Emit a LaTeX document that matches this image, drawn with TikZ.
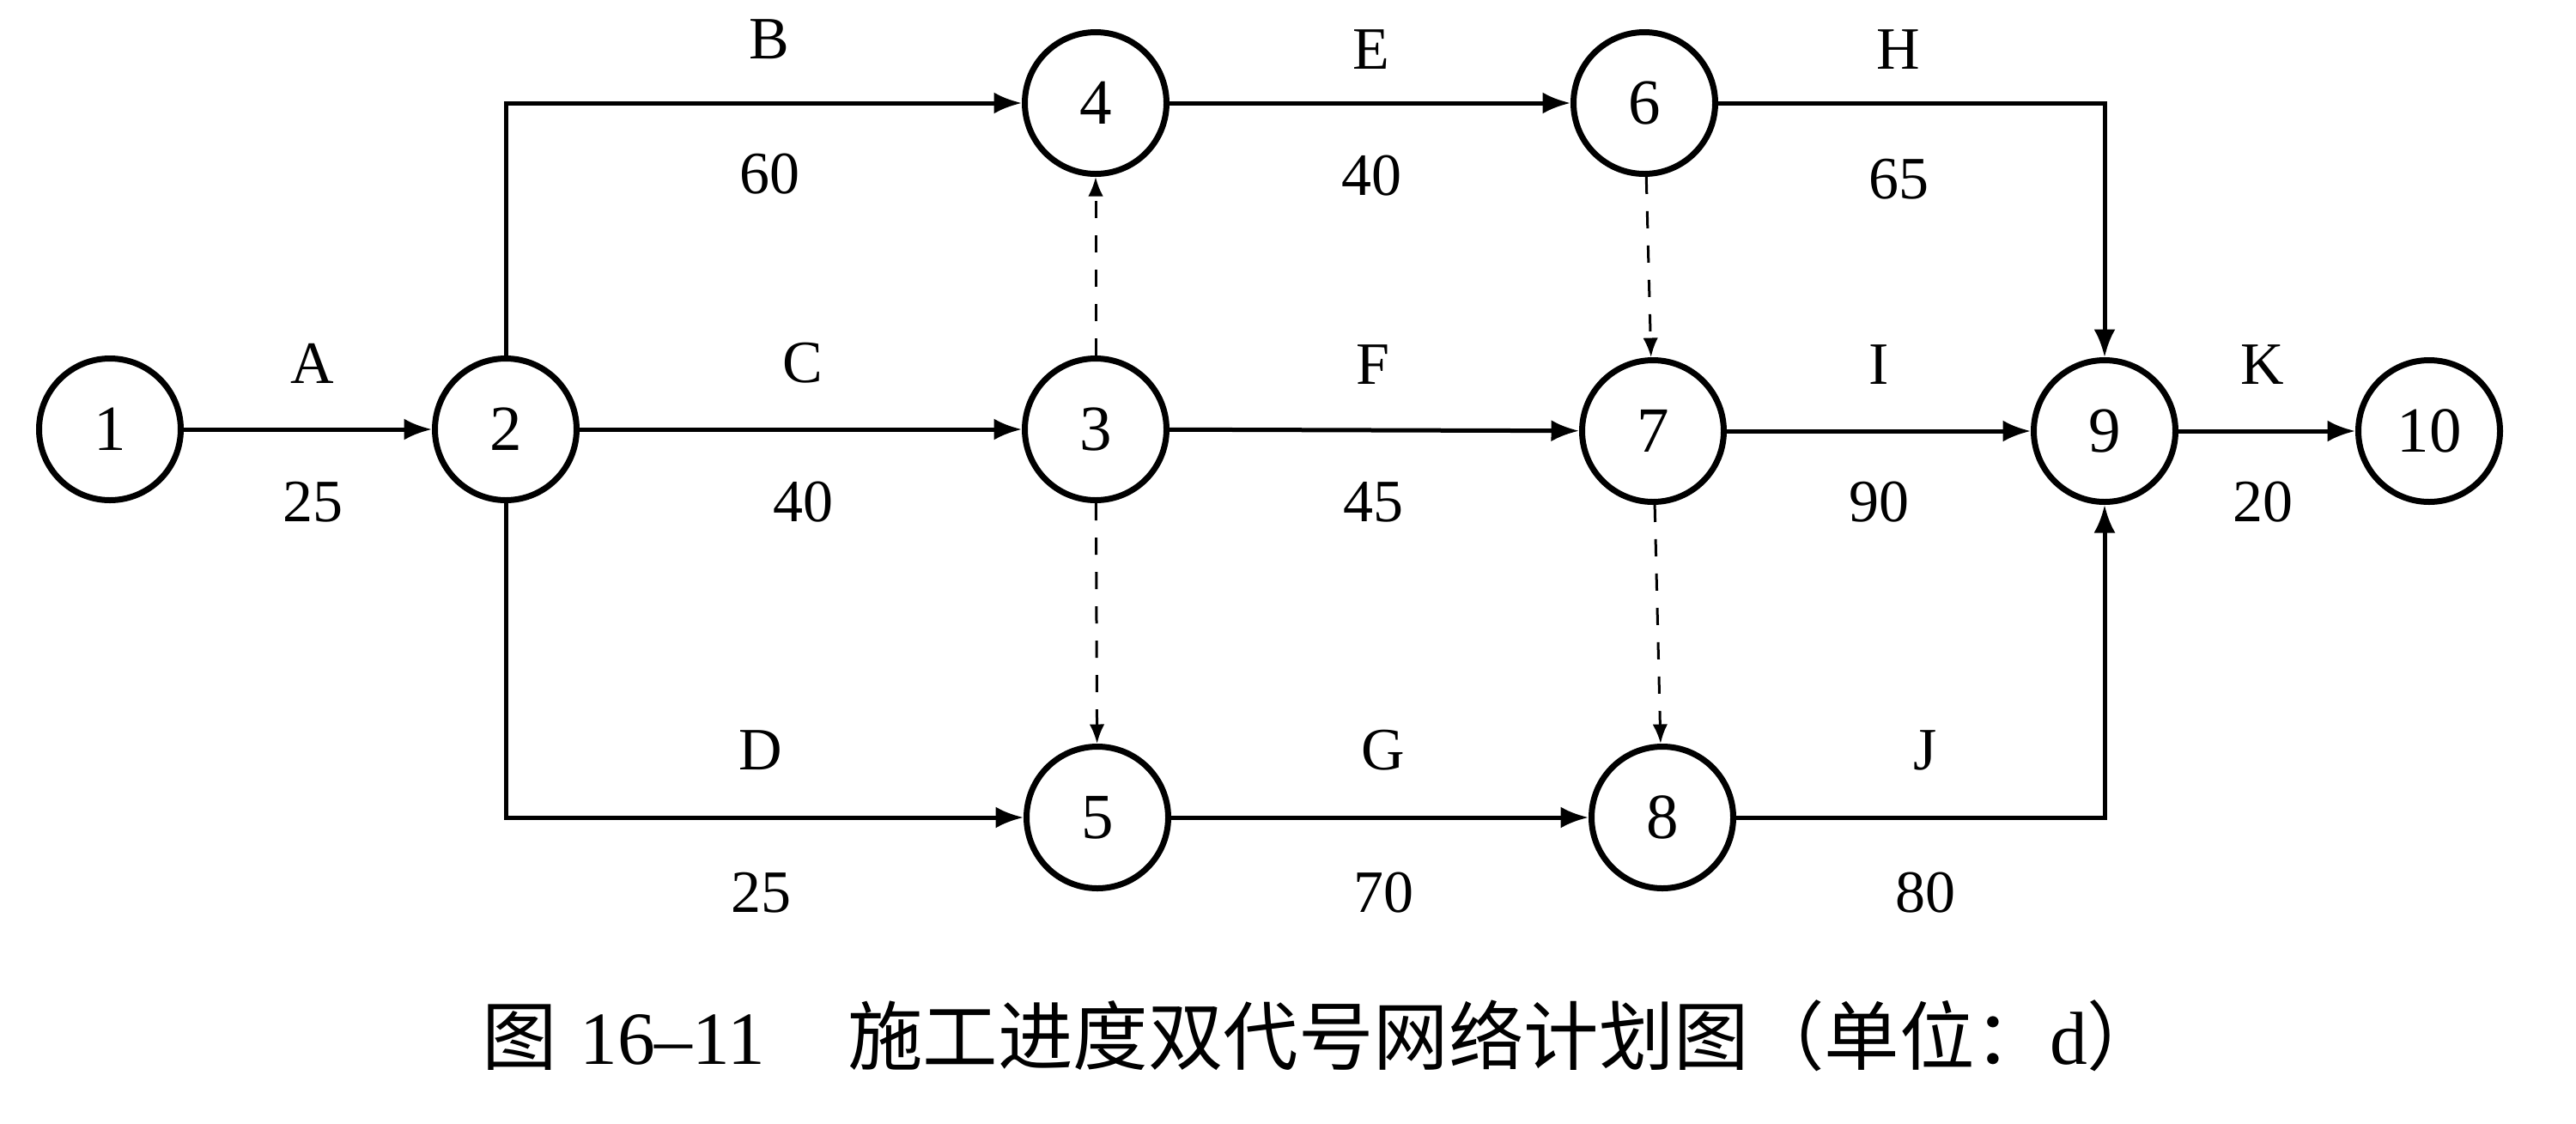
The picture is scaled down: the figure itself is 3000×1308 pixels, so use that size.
\documentclass[tikz,border=0pt]{standalone}
\usepackage{fontspec}
\setmainfont{Liberation Serif}
\newfontfamily\cjk{Noto Sans CJK SC}
\usetikzlibrary{arrows.meta}

\tikzset{every picture/.style={line width=0.75pt}}
\tikzset{
  evt/.style={draw, circle, line width=1.4pt, minimum size=33pt, inner sep=0pt, font=\fontsize{15}{18}\selectfont},
  act/.style={line width=1pt, -{Latex[length=6.5pt,width=5pt]}},
  dum/.style={line width=0.6pt, dash pattern=on 4pt off 4pt, -{Latex[length=4.5pt,width=3.5pt]}},
  lbl/.style={font=\fontsize{14}{17}\selectfont}
}

\begin{document}
\begin{tikzpicture}[x=0.2pt,y=0.2pt,yscale=-1,xscale=1]
	\useasboundingbox (0,0) rectangle (3000,1308);
	
	%Shape: Circle
	\node[evt] (n1) at (128,500) {1};
	\node[evt] (n2) at (589,500) {2};
	\node[evt] (n3) at (1276,500) {3};
	\node[evt] (n4) at (1276,120) {4};
	\node[evt] (n5) at (1278,952) {5};
	\node[evt] (n6) at (1915,120) {6};
	\node[evt] (n7) at (1925,502) {7};
	\node[evt] (n8) at (1936,952) {8};
	\node[evt] (n9) at (2451,502) {9};
	\node[evt] (n10) at (2829,502) {10};
	
	%Straight Lines
	\draw[act] (n1) -- (n2);
	\draw[act] (n2) |- (n4);
	\draw[act] (n2) -- (n3);
	\draw[act] (n2) |- (n5);
	\draw[act] (n4) -- (n6);
	\draw[act] (n3) -- (n7);
	\draw[act] (n5) -- (n8);
	\draw[act] (n6) -| (n9);
	\draw[act] (n7) -- (n9);
	\draw[act] (n8) -| (n9);
	\draw[act] (n9) -- (n10);
	
	%Dashed Lines
	\draw[dum] (n3) -- (n4);
	\draw[dum] (n3) -- (n5);
	\draw[dum] (n6) -- (n7);
	\draw[dum] (n7) -- (n8);
	
	% Text Node
	\node[lbl] (lA) at (364,423) {A};
	\node[lbl] (dA) at (364,585) {25};
	\node[lbl] (lB) at (896,46) {B};
	\node[lbl] (dB) at (896,203) {60};
	\node[lbl] (lC) at (935,423) {C};
	\node[lbl] (dC) at (935,585) {40};
	\node[lbl] (lD) at (886,874) {D};
	\node[lbl] (dD) at (886,1040) {25};
	\node[lbl] (lE) at (1597,58) {E};
	\node[lbl] (dE) at (1597,205) {40};
	\node[lbl] (lF) at (1599,425) {F};
	\node[lbl] (dF) at (1599,585) {45};
	\node[lbl] (lG) at (1611,874) {G};
	\node[lbl] (dG) at (1611,1040) {70};
	\node[lbl] (lH) at (2211,58) {H};
	\node[lbl] (dH) at (2211,209) {65};
	\node[lbl] (lI) at (2188,425) {I};
	\node[lbl] (dI) at (2188,585) {90};
	\node[lbl] (lJ) at (2242,874) {J};
	\node[lbl] (dJ) at (2242,1040) {80};
	\node[lbl] (lK) at (2635,425) {K};
	\node[lbl] (dK) at (2635,585) {20};
	
	% Caption
	\node (cap) at (1540,1206) {\fontsize{17.5}{20}\selectfont{\cjk 图}\hspace{0.3em}16--11\hspace{1.1em}{\cjk 施工进度双代号网络计划图（单位：}d{\cjk ）}};
\end{tikzpicture}
\end{document}
